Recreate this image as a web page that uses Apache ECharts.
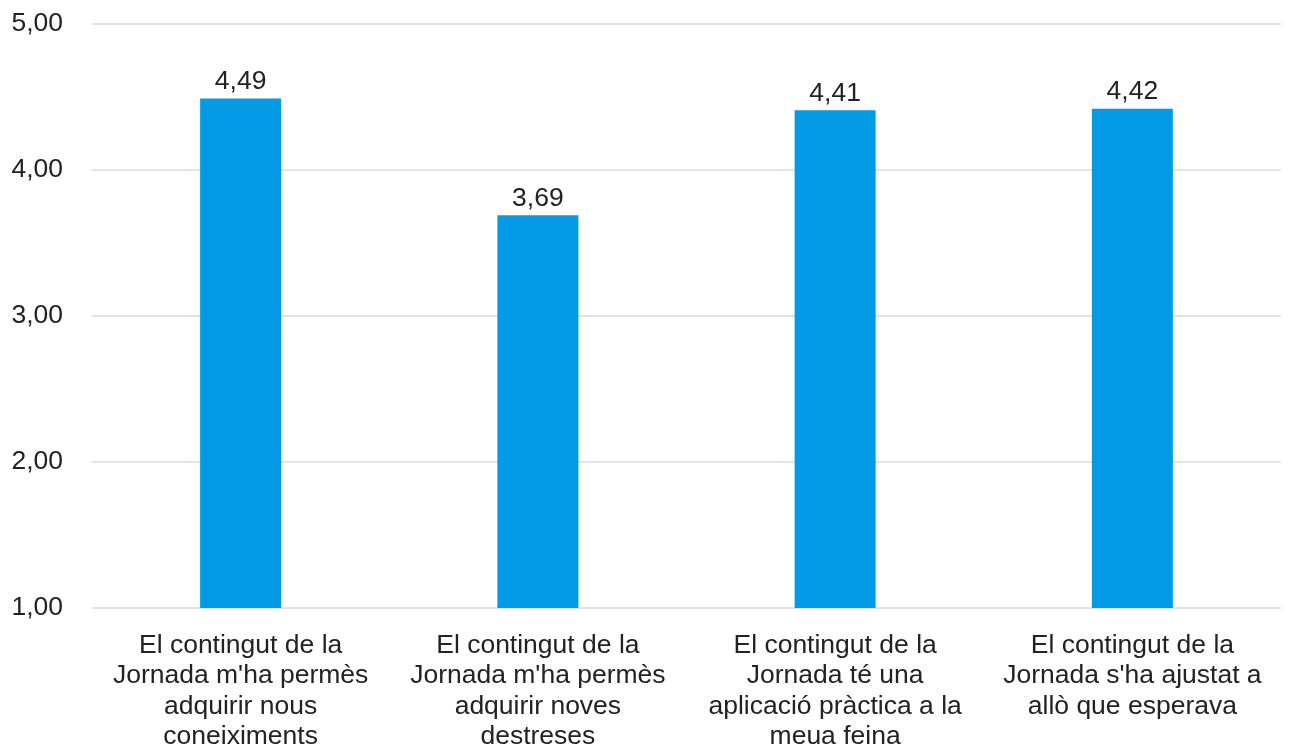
<!DOCTYPE html>
<html><head><meta charset="utf-8">
<script src="https://cdn.jsdelivr.net/npm/echarts@6/dist/echarts.min.js"></script>
<style>html,body{margin:0;padding:0;background:#fff}#c{width:1292px;height:745px}</style>
</head><body><div id="c"></div>
<script>
const categories = [
  "El contingut de la\nJornada m'ha permès\nadquirir nous\nconeiximents",
  "El contingut de la\nJornada m'ha permès\nadquirir noves\ndestreses",
  "El contingut de la\nJornada té una\naplicació pràctica a la\nmeua feina",
  "El contingut de la\nJornada s'ha ajustat a\nallò que esperava"
];
const values = [4.49, 3.69, 4.41, 4.42];
const yMin = 1, yMax = 5, yStep = 1;

const fmt = v => Number(v).toFixed(2).replace('.', ',');
const chart = echarts.init(document.getElementById('c'));
chart.setOption({
  animation: false,
  textStyle: { fontFamily: 'Liberation Sans' },
  grid: { left: 92, right: 11, top: 24, bottom: 137, containLabel: false, outerBoundsMode: 'none' },
  xAxis: {
    type: 'category', data: categories,
    axisLine: { show: false }, axisTick: { show: false },
    axisLabel: { interval: 0, fontSize: 26.5, lineHeight: 30.5, color: '#222', margin: 22, fontFamily: 'Liberation Sans' }
  },
  yAxis: {
    type: 'value', min: yMin, max: yMax, interval: yStep,
    axisLine: { show: false }, axisTick: { show: false },
    splitLine: { lineStyle: { color: '#e3e3e3', width: 2 } },
    axisLabel: { fontSize: 26.5, color: '#222', margin: 29, formatter: fmt, fontFamily: 'Liberation Sans' }
  },
  series: [{
    type: 'bar', data: values, barWidth: 81,
    itemStyle: { color: '#039BE5' },
    label: { show: true, position: 'top', distance: 3, fontSize: 26.5, color: '#222', formatter: p => fmt(p.value), fontFamily: 'Liberation Sans' }
  }]
});
</script></body></html>
